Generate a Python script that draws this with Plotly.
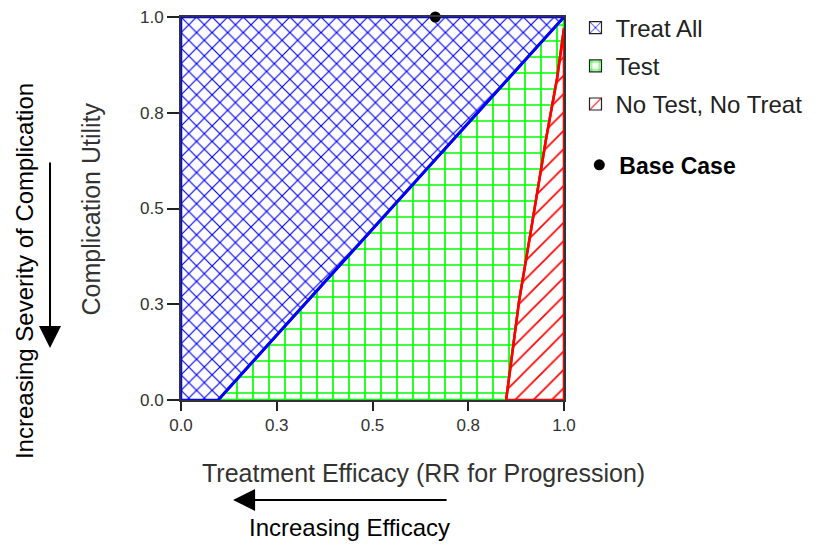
import plotly.graph_objects as go

# threshold boundaries (efficacy RR on x, complication utility on y)
blue_x = [0.097, 1.0]
blue_y = [0.0, 1.0]
red_x = [0.849, 0.866, 0.883, 0.915, 0.953, 0.982, 0.997, 1.0]
red_y = [0.0, 0.13, 0.26, 0.45, 0.68, 0.84, 0.96, 0.97]
base_x = [0.664]
base_y = [1.0]
tick_vals = [0, 0.25, 0.5, 0.75, 1.0]
tick_text = ["0.0", "0.3", "0.5", "0.8", "1.0"]
region_names = ["Treat All", "Test", "No Test, No Treat"]

BLUE = "#0000ff"
GREEN = "#00ff00"
RED = "#ff0000"
FONT = "Liberation Sans, Arial, sans-serif"

# polygons built from the boundaries
treat_x = [0.0, blue_x[0], blue_x[1], 0.0, 0.0]
treat_y = [0.0, blue_y[0], blue_y[1], 1.0, 0.0]
test_x = [blue_x[0]] + red_x + [1.0, blue_x[0]]
test_y = [blue_y[0]] + red_y + [1.0, blue_y[0]]
none_x = red_x + [1.0] + [red_x[0]]
none_y = red_y + [0.0] + [red_y[0]]

patterns = {
    "Treat All": dict(shape="x", fgcolor=BLUE, bgcolor="white", size=11, solidity=0.2, fgopacity=1),
    "Test": dict(shape="+", fgcolor=GREEN, bgcolor="white", size=16, solidity=0.2, fgopacity=1),
    "No Test, No Treat": dict(shape="/", fgcolor=RED, bgcolor="white", size=13, solidity=0.13, fgopacity=1),
}
edge_colors = {"Treat All": BLUE, "Test": GREEN, "No Test, No Treat": RED}
polys = {"Treat All": (treat_x, treat_y), "Test": (test_x, test_y),
         "No Test, No Treat": (none_x, none_y)}

fig = go.Figure()

# filled regions (draw order: test, no test, treat all)
for name in ["Test", "No Test, No Treat", "Treat All"]:
    px, py = polys[name]
    fig.add_trace(go.Scatter(
        x=px, y=py, fill="toself", mode="lines", legendgroup=name, showlegend=False,
        line=dict(color=edge_colors[name], width=2.5), fillcolor="white",
        fillpattern=patterns[name], hoverinfo="skip"))

# boundary lines on top
fig.add_trace(go.Scatter(x=red_x, y=red_y, mode="lines", showlegend=False,
                         line=dict(color=RED, width=2.5), hoverinfo="skip"))
fig.add_trace(go.Scatter(x=blue_x, y=blue_y, mode="lines", showlegend=False,
                         line=dict(color=BLUE, width=3), hoverinfo="skip"))

# legend keys: square patterned swatches, on a hidden axis pair
for name in region_names:
    fig.add_trace(go.Bar(x=[0], y=[0], name=name, legendgroup=name,
                         xaxis="x2", yaxis="y2", hoverinfo="skip",
                         marker=dict(color="white", pattern=patterns[name],
                                     line=dict(color="#222", width=1.2))))

fig.add_trace(go.Scatter(
    x=base_x, y=base_y, mode="markers", name="<b>Base Case</b>",
    marker=dict(color="black", size=11), cliponaxis=False, legend="legend2"))

axis_common = dict(
    range=[0, 1], tickvals=tick_vals, ticktext=tick_text, ticks="outside",
    tickwidth=2, tickcolor="#222", showgrid=False, zeroline=False,
    showline=True, mirror=True, linecolor="#333", linewidth=2,
    ticklabeloverflow="allow",
    tickfont=dict(family=FONT, size=17, color="#333"))


def note(text, x, y, size, color, angle=0):
    return dict(text=text, xref="paper", yref="paper", x=x, y=y, xanchor="center",
                yanchor="middle", textangle=angle, showarrow=False,
                font=dict(family=FONT, size=size, color=color))


def arrow(x, y, ax, ay):
    return dict(text="", xref="paper", yref="paper", x=x, y=y, ax=ax, ay=ay,
                showarrow=True, arrowhead=2, arrowsize=2.2, arrowwidth=2,
                arrowcolor="black")


fig.update_layout(
    width=817, height=548,
    # page body adds ~7px offset, margins compensate
    margin=dict(l=173, r=261, t=9, b=156, autoexpand=False),
    paper_bgcolor="white", plot_bgcolor="white",
    font=dict(family=FONT, color="#222"),
    xaxis=dict(**axis_common, ticklen=9),
    yaxis=dict(**axis_common, ticklen=12),
    xaxis2=dict(overlaying="x", visible=False, range=[10, 11]),
    yaxis2=dict(overlaying="y", visible=False, range=[10, 11]),
    showlegend=True,
    legend=dict(x=1.03, y=1.03, xanchor="left", yanchor="top",
                font=dict(family=FONT, size=24, color="#222"),
                traceorder="grouped", tracegroupgap=4, bgcolor="rgba(0,0,0,0)"),
    legend2=dict(x=1.04, y=0.67, xanchor="left", yanchor="top",
                 font=dict(family=FONT, size=23, color="black"),
                 bgcolor="rgba(0,0,0,0)"),
    annotations=[
        note("Complication Utility", -0.235, 0.5, 25, "#333", -90),
        note("Increasing Severity of Complication", -0.407, 0.337, 24, "black", -90),
        note("Treatment Efficacy (RR for Progression)", 0.634, -0.19, 25, "#333"),
        note("Increasing Efficacy", 0.439, -0.334, 24, "black"),
        arrow(-0.342, 0.136, 0, -187),
        arrow(0.136, -0.261, 215, 0),
    ],
)

fig.write_html("out.html")
